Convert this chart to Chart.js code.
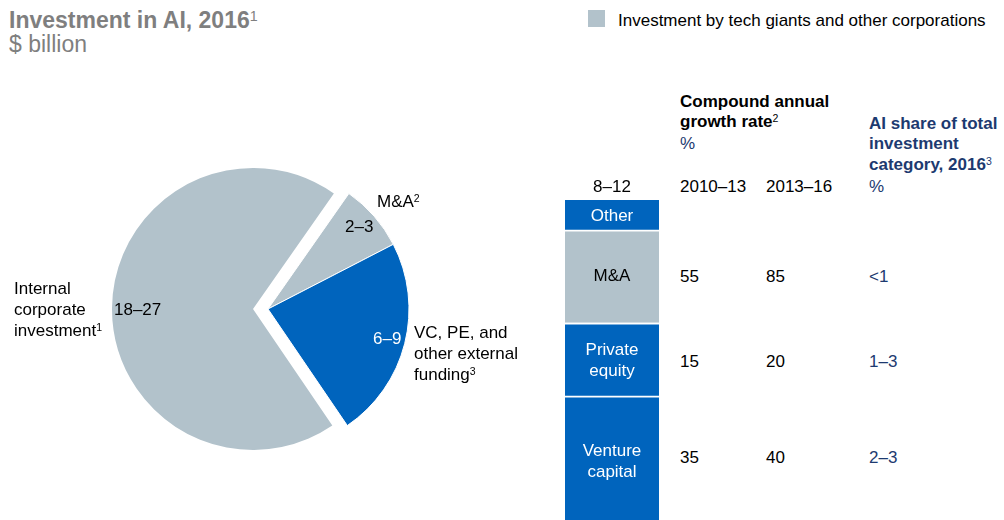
<!DOCTYPE html>
<html>
<head>
<meta charset="utf-8">
<script src="https://cdn.jsdelivr.net/npm/chart.js@4.4.0/dist/chart.umd.min.js"></script>
<style>
  html, body { margin: 0; padding: 0; width: 1004px; height: 520px; overflow: hidden; background: #fff; }
  body { position: relative; font-family: "Liberation Sans", Arial, sans-serif; font-size: 17px; color: #000; }
  .t { position: absolute; line-height: 20px; white-space: nowrap; }
  .t.two { line-height: 21px; }
  .mid { transform: translateX(-50%); text-align: center; }
  .b { font-weight: bold; }
  .navy { color: #1d3a70; }
  .white { color: #fff; }
  sup { font-size: 0.62em; line-height: 0; vertical-align: 0.5em; font-weight: normal; }
  canvas { position: absolute; }
  #title { left: 9px; top: 7px; font-size: 23px; line-height: 26px; font-weight: bold; color: #7f7f7f; }
  #unit { left: 9px; top: 31px; font-size: 23px; line-height: 26px; color: #7f7f7f; }
  #legend { left: 618px; top: 11px; }
  #legend i { position: absolute; left: -30px; top: -1px; width: 17px; height: 17px; background: #b2c2cb; }
</style>
</head>
<body>
<div class="t" id="title">Investment in AI, 2016<sup>1</sup></div>
<div class="t" id="unit">$ billion</div>
<div class="t" id="legend"><i></i>Investment by tech giants and other corporations</div>

<!-- internal slice is pulled out to the left, so it sits on its own canvas -->
<canvas id="pieInternal" width="336" height="298" style="left:85px; top:160px;"></canvas>
<canvas id="pieExternal" width="336" height="298" style="left:100px; top:160px;"></canvas>
<canvas id="stack" width="94" height="332" style="left:565px; top:200px;"></canvas>

<script>
// 2016 investment split, $ billion ranges
const pieNames = ['M&A<sup>2</sup>', 'VC, PE, and<br>other external<br>funding<sup>3</sup>', 'Internal<br>corporate<br>investment<sup>1</sup>'];
const pieLow = [2, 6, 18];
const pieHigh = [3, 9, 27];

// external funding stack, bottom to top
const stackNames = ['Venture<br>capital', 'Private<br>equity', 'M&A', 'Other'];
const stackValues = [4.1, 2.2, 2.8, 0.9];
const stackTotal = '8–12';

// compound annual growth rate, %, and AI share of category, %
const cagrPeriods = ['2010–13', '2013–16'];
const cagrEarly = [35, 15, 55];
const cagrLate = [40, 20, 85];
const aiShare = ['2–3', '1–3', '<1'];

const blue = '#0064bd';
const grey = '#b2c2cb';
const none = 'rgba(0,0,0,0)';

function addText(html, x, y, cls) {
  const d = document.createElement('div');
  d.className = 't ' + (cls || '');
  d.innerHTML = html;
  d.style.left = x + 'px';
  d.style.top = y + 'px';
  document.body.appendChild(d);
  return d;
}

const range = i => pieLow[i] + '–' + pieHigh[i];
const pieMid = pieLow.map((lo, i) => (lo + pieHigh[i]) / 2);

function drawPie(id, colors, borders) {
  return new Chart(document.getElementById(id), {
    type: 'pie',
    data: {
      labels: ['M&A', 'VC, PE, and other external funding', 'Internal corporate investment'],
      datasets: [{
        data: pieMid,
        backgroundColor: colors,
        borderColor: '#fff',
        borderWidth: borders,
        hoverOffset: 0
      }]
    },
    options: {
      responsive: false,
      animation: false,
      radius: 141,
      rotation: 35,
      layout: { padding: 0 },
      plugins: { legend: { display: false }, tooltip: { enabled: false } }
    }
  });
}

drawPie('pieInternal', [none, none, grey], [0, 0, 0]);
drawPie('pieExternal', [grey, blue, none], [1, 1, 0]);

// pie labels
addText(pieNames[0], 377, 192);
addText(range(0), 345, 217);
addText(pieNames[1], 414, 322, 'two');
addText(range(1), 373, 329, 'white');
addText(pieNames[2], 14, 278, 'two');
addText(range(2), 114, 300);

new Chart(document.getElementById('stack'), {
  type: 'bar',
  data: {
    labels: ['2016'],
    datasets: stackValues.map((v, i) => ({
      label: stackNames[i],
      data: [v],
      backgroundColor: i === 2 ? grey : blue,
      borderColor: '#fff',
      borderWidth: i === stackValues.length - 1 ? 0 : { top: 2, right: 0, bottom: 0, left: 0 },
      borderSkipped: false,
      barPercentage: 1,
      categoryPercentage: 1
    }))
  },
  options: {
    responsive: false,
    animation: false,
    layout: { padding: 0 },
    plugins: { legend: { display: false }, tooltip: { enabled: false } },
    scales: {
      x: { display: false, stacked: true },
      y: { display: false, stacked: true, min: 0, max: 10 }
    }
  }
});

// labels inside the stack
const barMid = 612;
addText(stackNames[3], barMid, 206, 'mid white');
addText(stackNames[2], barMid, 266, 'mid');
addText(stackNames[1], barMid, 339, 'mid two white');
addText(stackNames[0], barMid, 440, 'mid two white');
addText(stackTotal, barMid, 177, 'mid');

// table headers
addText('Compound annual', 680, 92, 'b');
addText('growth rate<sup>2</sup>', 680, 112, 'b');
addText('%', 680, 134, 'navy');
addText('AI share of total', 869, 114, 'b navy');
addText('investment', 869, 134, 'b navy');
addText('category, 2016<sup>3</sup>', 869, 155, 'b navy');
addText('%', 869, 177, 'navy');
addText(cagrPeriods[0], 680, 177);
addText(cagrPeriods[1], 766, 177);

// table rows: venture capital, private equity, M&A
const rowTop = [448, 352, 267];
rowTop.forEach((y, i) => {
  addText(cagrEarly[i], 680, y);
  addText(cagrLate[i], 766, y);
  addText(aiShare[i], 869, y, 'navy');
});
</script>
</body>
</html>
